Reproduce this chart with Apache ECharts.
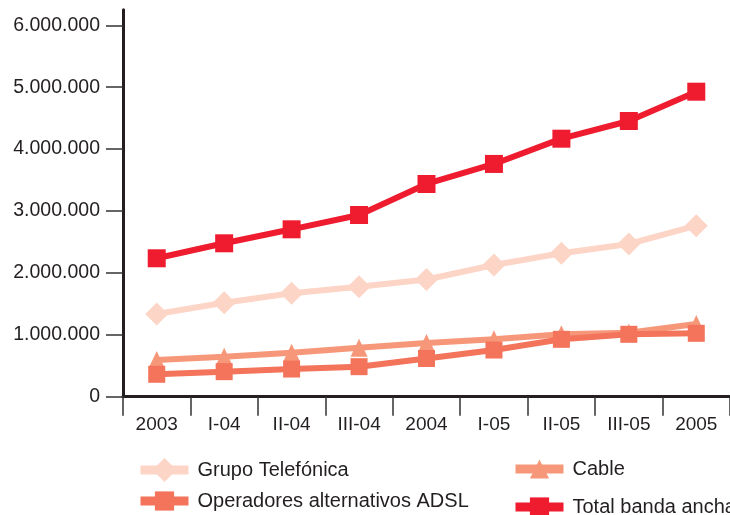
<!DOCTYPE html>
<html>
<head>
<meta charset="utf-8">
<style>
  html, body { margin: 0; padding: 0; background: #ffffff; }
  #chart { width: 730px; height: 515px; }
</style>
<script src="https://cdn.jsdelivr.net/npm/echarts@6/dist/echarts.min.js"></script>
</head>
<body>
<div id="chart"></div>
<script>
// Broadband lines in Spain by operator group, 2003 – 2005
const categories = ['2003', 'I-04', 'II-04', 'III-04', '2004', 'I-05', 'II-05', 'III-05', '2005'];
const grupoTelefonica = [1336000, 1519000, 1670000, 1777000, 1893000, 2128000, 2317000, 2467000, 2763000];
const cable = [593000, 646000, 711000, 792000, 868000, 927000, 1008000, 1034000, 1174000];
const operadoresADSL = [362000, 404000, 447000, 485000, 617000, 754000, 927000, 1008000, 1024000];
const totalBandaAncha = [2236000, 2478000, 2704000, 2935000, 3436000, 3760000, 4168000, 4454000, 4927000];
const yTicks = [0, 1000000, 2000000, 3000000, 4000000, 5000000, 6000000];

const TEXT = '#231F20';
const FONT = 'Liberation Sans, Arial, Helvetica, sans-serif';

function fmtThousands(v) {
  return String(v).replace(/\B(?=(\d{3})+(?!\d))/g, '.');
}

function lineSeries(name, data, color, symbol, size) {
  return {
    name: name,
    type: 'line',
    data: data,
    symbol: symbol,
    symbolSize: size,
    showSymbol: true,
    lineStyle: { color: color, width: 6 },
    itemStyle: { color: color, borderWidth: 0 },
    emphasis: { disabled: true },
    animation: false
  };
}

function legendItem(name, left, top, itemHeight) {
  return {
    data: [name],
    left: left,
    top: top,
    itemWidth: 48,
    itemHeight: itemHeight,
    selectedMode: false,
    lineStyle: { width: 9 },
    itemStyle: { borderWidth: 0 },
    textStyle: { fontFamily: FONT, fontSize: 20, color: TEXT, padding: [0, 0, 0, 4] }
  };
}

const chart = echarts.init(document.getElementById('chart'), null, { renderer: 'canvas' });

chart.setOption({
  animation: false,
  backgroundColor: '#ffffff',
  textStyle: { fontFamily: FONT },
  grid: { left: 123, right: 0, top: 9.8, bottom: 118.3, containLabel: false },
  legend: [
    legendItem('Grupo Telefónica', 131, 453, 30),
    legendItem('Cable', 506, 454, 24),
    legendItem('Operadores alternativos ADSL', 131, 486, 24),
    legendItem('Total banda ancha', 506, 492, 24)
  ],
  xAxis: {
    type: 'category',
    data: categories,
    boundaryGap: true,
    axisLine: { lineStyle: { color: TEXT, width: 3 } },
    axisTick: { show: true, length: 19, lineStyle: { color: '#333333', width: 1.5 } },
    axisLabel: { color: TEXT, fontSize: 19, fontFamily: FONT, margin: 19 },
    splitLine: { show: false }
  },
  yAxis: {
    type: 'value',
    min: 0,
    max: 6250000,
    interval: 1000000,
    axisLine: { show: true, lineStyle: { color: TEXT, width: 3 } },
    axisTick: { show: true, length: 17, customValues: yTicks, lineStyle: { color: '#333333', width: 1.5 } },
    axisLabel: {
      customValues: yTicks,
      color: TEXT, fontSize: 19.5, fontFamily: FONT, margin: 23,
      formatter: fmtThousands
    },
    splitLine: { show: false }
  },
  series: [
    lineSeries('Grupo Telefónica', grupoTelefonica, '#FDD5C6', 'diamond', [23, 23]),
    lineSeries('Cable', cable, '#F7977A', 'triangle', [17, 18]),
    lineSeries('Operadores alternativos ADSL', operadoresADSL, '#F3735B', 'rect', [17, 17]),
    lineSeries('Total banda ancha', totalBandaAncha, '#EE1C2E', 'rect', [18, 18])
  ]
});
</script>
</body>
</html>
